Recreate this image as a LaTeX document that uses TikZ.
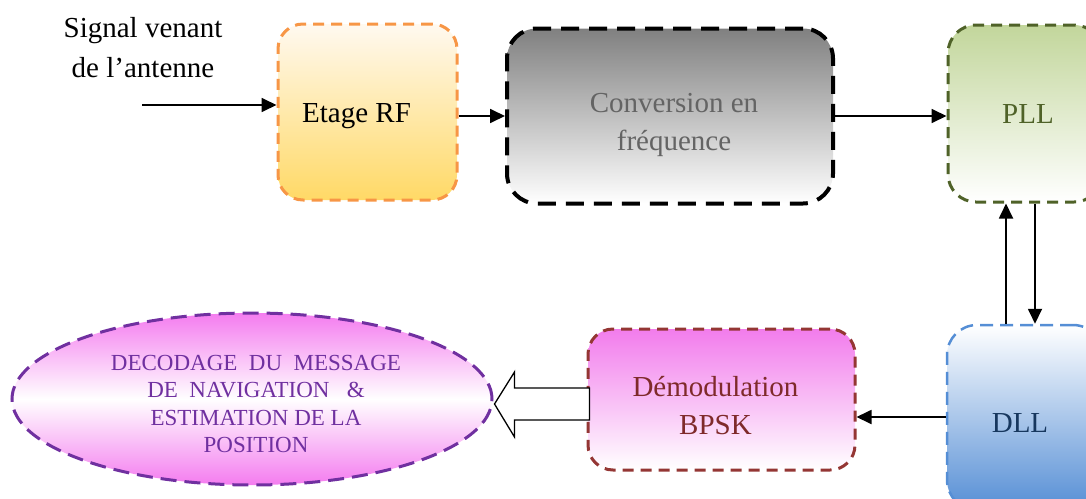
\documentclass[tikz,border=0pt]{standalone}
\usepackage{fontspec}
\setmainfont{Liberation Serif}
\usetikzlibrary{arrows.meta,shapes.geometric,shadings,calc}

\definecolor{rfedge}{HTML}{F79646}
\definecolor{rftop}{HTML}{FFF9F0}
\definecolor{rfbot}{HTML}{FFD966}
\definecolor{convtop}{HTML}{808080}
\definecolor{convtext}{HTML}{646464}
\definecolor{plltop}{HTML}{C2D69B}
\definecolor{plledge}{HTML}{4F6228}
\definecolor{dllbot}{HTML}{558ED5}
\definecolor{dlltext}{HTML}{17375E}
\definecolor{demtop}{HTML}{F27CEC}
\definecolor{demedge}{HTML}{943634}
\definecolor{demtext}{HTML}{7F2A2A}
\definecolor{ellpink}{HTML}{F47CEF}
\definecolor{ellpurple}{HTML}{7030A0}

\tikzset{
  block/.style={rectangle, line width=3pt, dash pattern=on 11pt off 7pt,
    inner sep=0pt},
  blocktext/.style={align=center, inner sep=0pt,
    font=\fontsize{29}{38}\selectfont},
  conn/.style={line width=1.8pt, -{Triangle[length=15pt,width=14pt]}},
  fat/.style={line width=1.3pt, fill=white, line join=miter}
}

\begin{document}
\begin{tikzpicture}[x=1pt, y=-1pt]
\useasboundingbox (0,0) rectangle (1086,498);
\clip (0,0) rectangle (1086,498);

% processing chain, top row
\node[block, draw=rfedge, top color=rftop, bottom color=rfbot,
      rounded corners=25pt, minimum width=179pt, minimum height=176pt]
      (rf) at (367.5,112) {};
\node[blocktext] (rft) at ($(rf.center)+(-11,4)$) {Etage RF};
\node[block, draw=black, line width=4pt, dash pattern=on 18pt off 10pt,
      top color=convtop, bottom color=white,
      rounded corners=30pt, minimum width=326pt, minimum height=175pt]
      (conv) at (670,116) {};
\node[blocktext, text=convtext] (convt) at ($(conv.center)+(4,8.5)$) {Conversion en\\fréquence};
\node[block, draw=plledge, top color=plltop, bottom color=white,
      rounded corners=28pt, minimum width=154pt, minimum height=177pt]
      (pll) at (1025,113.5) {};
\node[blocktext, text=plledge] (pllt) at ($(pll.center)+(3,1)$) {PLL};

% tracking and demodulation, bottom row
\node[block, draw=dllbot, line width=2.5pt, dash pattern=on 13pt off 7pt,
      top color=white, bottom color=dllbot,
      rounded corners=30pt, minimum width=156pt, minimum height=185pt]
      (dll) at (1025,417.5) {};
\node[blocktext, text=dlltext] (dllt) at ($(dll.center)+(-5,6)$) {DLL};
\node[block, draw=demedge, top color=demtop, bottom color=white,
      rounded corners=25pt, minimum width=267pt, minimum height=141pt]
      (dem) at (721.5,399.5) {};
\node[blocktext, text=demtext] (demt) at ($(dem.center)+(-6,6)$) {Démodulation\\BPSK};
\node[ellipse, line width=3pt, dash pattern=on 16pt off 8pt, draw=ellpurple,
      top color=ellpink, bottom color=ellpink, middle color=white,
      inner sep=0pt, minimum width=480pt, minimum height=172pt]
      (ell) at (252,399) {};
\node[align=center, inner sep=0pt, text=ellpurple,
      font=\fontsize{23}{27.5}\selectfont]
      (ellt) at ($(ell.center)+(4,5)$) {DECODAGE~ DU~ MESSAGE\\DE~ NAVIGATION~~ \&\\ESTIMATION DE LA\\POSITION};

% antenna input
\node[align=center, inner sep=0pt, font=\fontsize{29}{40}\selectfont]
      (sig) at (143,48) {Signal venant\\de l’antenne};
\coordinate (in) at (142,105);
\draw[conn] (in) -- (in -| rf.west);

% signal path
\draw[conn] (rf.east |- conv.west) -- (conv.west);
\draw[conn] (conv.east) -- (conv.east -| pll.west);
\coordinate (up) at (1006,0);
\coordinate (dn) at (1035,0);
\draw[conn] (up |- dll.north) -- (up |- pll.south);
\draw[conn] (dn |- pll.south) -- (dn |- dll.north);
\coordinate (lo) at (0,417);
\draw[conn] (dll.west |- lo) -- (dem.east |- lo);

% hollow block arrow towards the decoding stage
\coordinate (tip) at ($(ell.east)+(1,5)$);
\draw[fat, shift={(tip)}] (0,0) -- (20,-32) -- (20,-16) -- (95,-16)
      -- (95,16) -- (20,16) -- (20,33) -- cycle;
\end{tikzpicture}
\end{document}
